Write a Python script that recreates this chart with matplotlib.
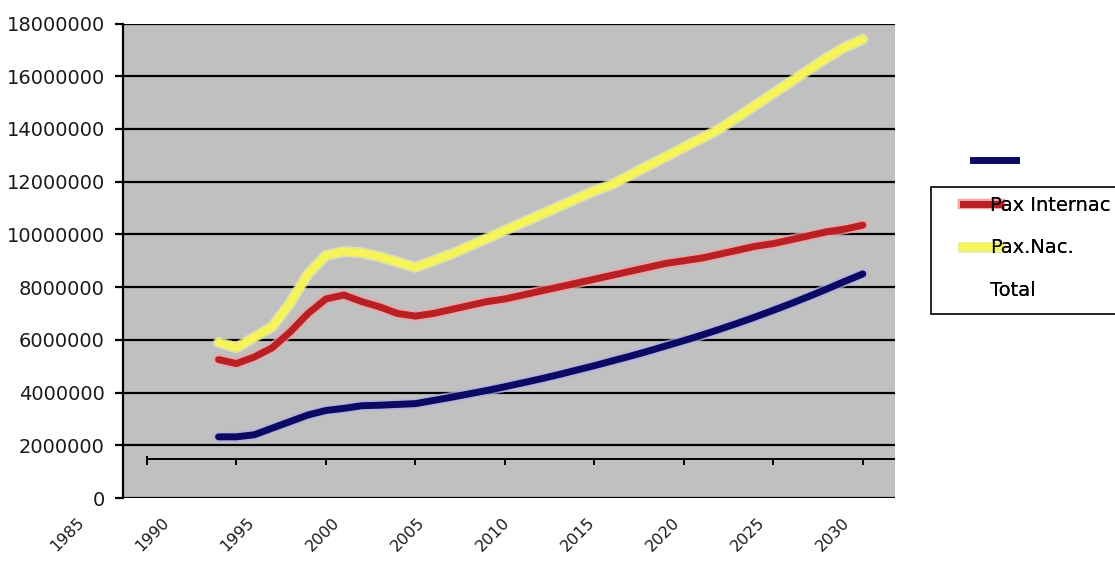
import matplotlib
matplotlib.use("Agg")
from matplotlib import pyplot as plt
from matplotlib.lines import Line2D
from matplotlib.patches import Rectangle
import matplotlib.patheffects as pe

# data (millions of passengers)
years = list(range(1989, 2026))
pax_nac = [5.9, 5.7, 6.1, 6.5, 7.4, 8.5, 9.2, 9.35, 9.3, 9.15, 8.95, 8.75, 9.0,
           9.25, 9.55, 9.85, 10.15, 10.45, 10.75, 11.05, 11.35, 11.65, 11.9, 12.25,
           12.6, 12.95, 13.3, 13.65, 14.0, 14.45, 14.9, 15.35, 15.8, 16.25, 16.7,
           17.1, 17.4]
pax_int = [5.25, 5.1, 5.35, 5.7, 6.3, 7.0, 7.55, 7.7, 7.45, 7.25, 7.0, 6.9, 7.0,
           7.15, 7.3, 7.45, 7.55, 7.7, 7.85, 8.0, 8.15, 8.3, 8.45, 8.6, 8.75, 8.9,
           9.0, 9.1, 9.25, 9.4, 9.55, 9.65, 9.8, 9.95, 10.1, 10.2, 10.35]
total = [2.32, 2.32, 2.4, 2.65, 2.9, 3.15, 3.32, 3.4, 3.5, 3.52, 3.55, 3.58, 3.7,
         3.82, 3.95, 4.08, 4.22, 4.37, 4.52, 4.68, 4.85, 5.02, 5.2, 5.38, 5.57,
         5.77, 5.97, 6.18, 6.4, 6.63, 6.87, 7.12, 7.38, 7.65, 7.93, 8.22, 8.5]

tick_years = [1985, 1990, 1995, 2000, 2005, 2010, 2015, 2020, 2025]
bottom_labels = ["1985", "1990", "1995", "2000", "2005", "2010", "2015", "2020",
                 "2025", "2030"]
yticks = list(range(0, 18000001, 2000000))

plt.rcParams['font.family'] = ['DejaVu Sans']

fig = plt.figure(figsize=(11.15, 5.68), dpi=100)
ax = fig.add_axes([123 / 1115, 70 / 568, 772 / 1115, 474.5 / 568])
ax.set_facecolor('#c0c0c0')

M = 1e6
C_NAC, H_NAC = '#f5f55a', '#ececa0'
C_INT, H_INT = '#b82025', '#f5a0a0'
C_TOT, H_TOT = '#0a0a62', '#b0b0e4'

def halo(col, lw):
    return [pe.Stroke(linewidth=lw + 2.5, foreground=col, alpha=0.75), pe.Normal()]

ax.plot(years, [v * M for v in pax_nac], color=C_NAC, lw=5.4, zorder=4,
        solid_capstyle='round', solid_joinstyle='round', path_effects=halo(H_NAC, 5.4))
ax.plot(years, [v * M for v in pax_int], color=C_INT, lw=5.0, zorder=4,
        solid_capstyle='round', solid_joinstyle='round', path_effects=halo(H_INT, 5.0))
ax.plot(years, [v * M for v in total], color=C_TOT, lw=5.0, zorder=4,
        solid_capstyle='round', solid_joinstyle='round', path_effects=halo(H_TOT, 5.0))

ax.set_xlim(1983.66, 2026.8)
ax.set_ylim(0, 18000000)
ax.set_yticks(yticks)
ax.set_yticklabels([str(v) for v in yticks], fontsize=14, color='#1a1a1a')
ax.tick_params(axis='y', length=6, width=1.6, pad=7)
ax.grid(axis='y', color='black', lw=1.6)
ax.set_axisbelow(True)
ax.set_xticks([])
for s in ['top', 'right', 'bottom']:
    ax.spines[s].set_visible(False)
ax.spines['left'].set_linewidth(1.6)

# inner axis with ticks
axis_y = 1.48 * M
ax.plot([tick_years[0], 2026.8], [axis_y, axis_y], color='black', lw=1.4, zorder=3)
ax.vlines(tick_years, axis_y - 0.22 * M, axis_y, color='black', lw=1.4, zorder=3)
ax.vlines([tick_years[0]], axis_y, axis_y + 0.12 * M, color='black', lw=1.4, zorder=3)

# bottom labels
lab = fig.add_axes([82 / 1115, 70 / 568, 765 / 1115, 0.0001])
lab.set_xlim(0, 9)
lab.set_xticks(range(len(bottom_labels)))
lab.set_xticklabels(bottom_labels, rotation=45, ha='right', va='center',
                    rotation_mode='anchor', fontsize=11.5, color='#1a1a1a')
lab.tick_params(axis='x', length=0, pad=16)
lab.set_yticks([])
for s in lab.spines.values():
    s.set_visible(False)
lab.patch.set_alpha(0)

# legend (as in the picture: box for the last three, navy handle above it)
fig.add_artist(Rectangle((931 / 1115, 1 - 314 / 568), 200 / 1115, 127 / 568,
                         transform=fig.transFigure, facecolor='white',
                         edgecolor='black', lw=1.2, zorder=1))
h_int = Line2D([], [], color=C_INT, lw=5.0, path_effects=halo(H_INT, 5.0))
h_nac = Line2D([], [], color=C_NAC, lw=5.4, path_effects=halo(H_NAC, 5.4))
h_tot = Line2D([], [], color='none')
leg = fig.legend([h_int, h_nac, h_tot], ['Pax Internac', 'Pax.Nac.', 'Total'],
                 loc='upper left', bbox_to_anchor=(963 / 1115, 1 - 196 / 568),
                 fontsize=14, frameon=False, handlelength=1.9,
                 handletextpad=-0.5, labelspacing=1.2, borderpad=0,
                 borderaxespad=0)
leg.set_zorder(2)
h_blue = Line2D([], [], color=C_TOT, lw=5)
leg2 = fig.legend([h_blue], [''], loc='upper left',
                  bbox_to_anchor=(973 / 1115, 1 - 152 / 568), fontsize=14,
                  frameon=False, handlelength=2.2, borderpad=0, borderaxespad=0)
fig.add_artist(leg)

fig.savefig('out.png', dpi=100, facecolor='white')
